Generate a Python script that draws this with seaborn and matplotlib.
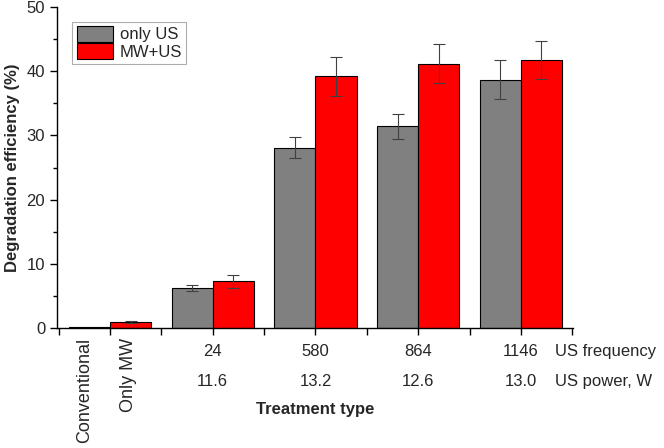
import numpy as np
import pandas as pd
import matplotlib
matplotlib.use("Agg")
import matplotlib.pyplot as plt
import matplotlib.transforms as mtransforms
import seaborn as sns

# data
groups = ["G1", "24", "580", "864", "1146"]
series = ["only US", "MW+US"]
only_us = [0.2, 6.2, 28.1, 31.4, 38.7]
only_us_err = [0.0, 0.5, 1.6, 2.0, 3.0]
mw_us = [0.9, 7.3, 39.2, 41.2, 41.8]
mw_us_err = [0.15, 1.0, 3.0, 3.0, 3.0]
freq_labels = ["", "24", "580", "864", "1146"]
power_labels = ["", "11.6", "13.2", "12.6", "13.0"]
first_labels = ["Conventional", "Only MW"]

sns.set_style("ticks")
plt.rcParams["font.family"] = ["Liberation Sans", "DejaVu Sans"]

df = pd.DataFrame({
    "group": groups * 2,
    "series": [series[0]] * len(groups) + [series[1]] * len(groups),
    "value": only_us + mw_us,
})

fig = plt.figure(figsize=(6.64, 4.48), dpi=100)
ax = fig.add_axes([0.0858, 0.268, 0.777, 0.716])

sns.barplot(data=df, x="group", y="value", hue="series", order=groups,
            hue_order=series, palette=["#808080", "#ff0000"],
            edgecolor="black", linewidth=0.8, width=0.8, errorbar=None,
            saturation=1, ax=ax)

# error bars on top of the seaborn bars
bars = ax.patches[:2 * len(groups)]
errs = only_us_err + mw_us_err
for p, e in zip(bars, errs):
    if e <= 0:
        continue
    cx = p.get_x() + p.get_width() / 2
    ax.errorbar(cx, p.get_height(), yerr=e, fmt="none", ecolor="#404040",
                elinewidth=0.8, capsize=4, capthick=0.8)

ax.set_ylim(0, 50)
ax.set_xlim(-0.516, 4.506)
ax.set_yticks(np.arange(0, 51, 10))
ax.set_yticks(np.arange(5, 50, 10), minor=True)
ax.set_xticks(np.arange(0, 5))
ax.set_xticks(np.arange(-0.5, 4.6, 0.5), minor=True)
ax.set_xticklabels([])
ax.tick_params(axis="both", which="major", length=5, width=1, labelsize=12, color="black")
ax.tick_params(axis="both", which="minor", length=3, width=1, color="black")
ax.tick_params(axis="x", which="minor", length=5)
sns.despine(ax=ax)
for s in ["left", "bottom"]:
    ax.spines[s].set_linewidth(1)
    ax.spines[s].set_color("black")

ax.set_xlabel("")
ax.set_ylabel("Degradation efficiency (%)", fontsize=12, fontweight="bold", labelpad=5)

trans = mtransforms.blended_transform_factory(ax.transData, ax.transAxes)
for i in range(1, len(groups)):
    ax.text(i, -0.075, freq_labels[i], transform=trans, ha="center", va="center", fontsize=12)
    ax.text(i, -0.168, power_labels[i], transform=trans, ha="center", va="center", fontsize=12)
ax.text(4.33, -0.075, "US frequency", transform=trans, ha="left", va="center", fontsize=12)
ax.text(4.33, -0.168, "US power, W", transform=trans, ha="left", va="center", fontsize=12)
for xoff, lab in zip([-0.25, 0.18], first_labels):
    ax.text(xoff, -0.03, lab, transform=trans, ha="center", va="top",
            rotation=90, fontsize=13)
ax.text(2.0, -0.255, "Treatment type", transform=trans, ha="center", va="center",
        fontsize=12, fontweight="bold")

leg = ax.legend(loc="upper left", bbox_to_anchor=(0.03, 0.955), fontsize=12,
                frameon=True, fancybox=False, edgecolor="#999999",
                handlelength=2.2, handleheight=1.1, handletextpad=0.4,
                borderpad=0.25, labelspacing=0.05, borderaxespad=0)
leg.get_frame().set_linewidth(0.8)

fig.savefig("out.png", dpi=100)
